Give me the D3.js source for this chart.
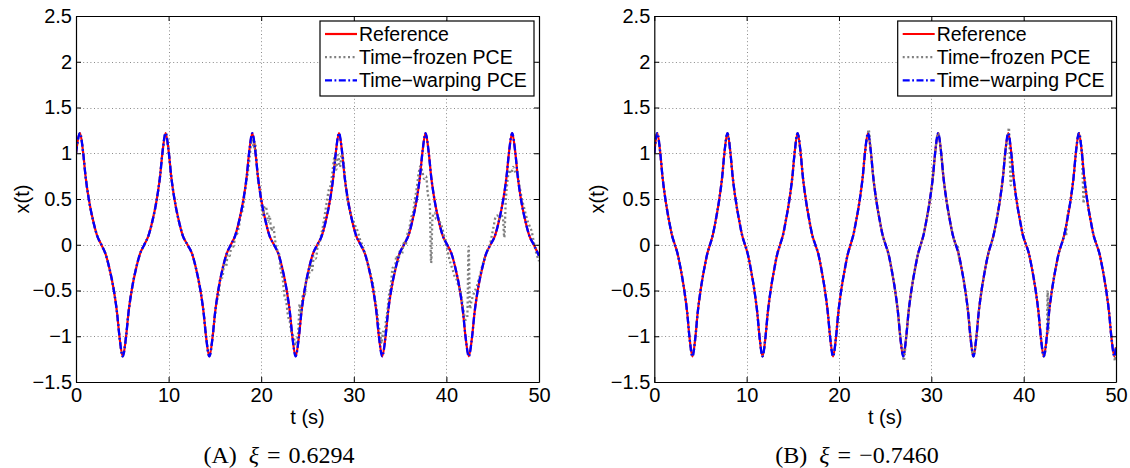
<!DOCTYPE html>
<html><head><meta charset="utf-8">
<script src="https://cdn.jsdelivr.net/npm/d3@7"></script>
<style>body{margin:0;background:#fff}</style>
</head><body>
<svg id="c" width="1130" height="468"></svg>
<script>
// ---------------- data ----------------
const xTicks = [0,10,20,30,40,50];
const xTickLabels = ["0","10","20","30","40","50"];
const yTicks = [-1.5,-1,-0.5,0,0.5,1,1.5,2,2.5];
const yTickLabels = ["\u22121.5","\u22121","\u22120.5","0","0.5","1","1.5","2","2.5"];
const seriesNames = ["Reference","Time\u2212frozen PCE","Time\u2212warping PCE"];
const xLabel = "t (s)";
const yLabel = "x(t)";
const captionTags = ["(A)","(B)"];
const captionValues = ["0.6294","\u22120.7460"];

// Panel A : reference trajectory [t, x(t)]
const referenceA = [
[0,1.0],[0.43,1.22],
[0.78,1.0],[1.03,0.75],[1.38,0.5],[1.88,0.25],[2.28,0.1],[2.74,0],[3.19,-0.1],[3.59,-0.25],[4.09,-0.5],[4.44,-0.75],[4.69,-1.0],[5.05,-1.22],
[5.41,-1.0],[5.66,-0.75],[6.01,-0.5],[6.51,-0.25],[6.91,-0.1],[7.37,0],[7.83,0.1],[8.23,0.25],[8.73,0.5],[9.08,0.75],[9.33,1.0],[9.68,1.22],
[10.03,1.0],[10.28,0.75],[10.63,0.5],[11.13,0.25],[11.53,0.1],[12.04,0],[12.54,-0.1],[12.94,-0.25],[13.44,-0.5],[13.79,-0.75],[14.04,-1.0],[14.4,-1.22],
[14.76,-1.0],[15.01,-0.75],[15.36,-0.5],[15.86,-0.25],[16.26,-0.1],[16.72,0],[17.19,0.1],[17.59,0.25],[18.09,0.5],[18.44,0.75],[18.69,1.0],[19.04,1.22],
[19.39,1.0],[19.64,0.75],[19.99,0.5],[20.49,0.25],[20.89,0.1],[21.38,0],[21.86,-0.1],[22.26,-0.25],[22.76,-0.5],[23.11,-0.75],[23.36,-1.0],[23.72,-1.22],
[24.08,-1.0],[24.33,-0.75],[24.68,-0.5],[25.18,-0.25],[25.58,-0.1],[26.06,0],[26.55,0.1],[26.95,0.25],[27.45,0.5],[27.8,0.75],[28.05,1.0],[28.4,1.22],
[28.75,1.0],[29.0,0.75],[29.35,0.5],[29.85,0.25],[30.25,0.1],[30.74,0],[31.21,-0.1],[31.61,-0.25],[32.11,-0.5],[32.46,-0.75],[32.71,-1.0],[33.07,-1.22],
[33.43,-1.0],[33.68,-0.75],[34.03,-0.5],[34.53,-0.25],[34.93,-0.1],[35.41,0],[35.9,0.1],[36.3,0.25],[36.8,0.5],[37.15,0.75],[37.4,1.0],[37.75,1.22],
[38.1,1.0],[38.35,0.75],[38.7,0.5],[39.2,0.25],[39.6,0.1],[40.09,0],[40.56,-0.1],[40.96,-0.25],[41.46,-0.5],[41.81,-0.75],[42.06,-1.0],[42.42,-1.22],
[42.78,-1.0],[43.03,-0.75],[43.38,-0.5],[43.88,-0.25],[44.28,-0.1],[44.76,0],[45.25,0.1],[45.65,0.25],[46.15,0.5],[46.5,0.75],[46.75,1.0],[47.1,1.22],
[47.45,1.0],[47.7,0.75],[48.05,0.5],[48.55,0.25],[48.95,0.1],[49.44,0],[49.91,-0.1],[50,-0.12]
];
// Panel A : time-warping PCE lies on the reference curve
const warpingA = referenceA;
// Panel A : time-frozen PCE, identical to the reference up to t = 14.7, then drifting
const frozenAStart = 14.7;
const frozenADrift = [
[14.76,-1.0],[15.0,-0.78],[15.2,-0.62],[15.4,-0.55],[15.6,-0.36],[15.8,-0.36],[16.0,-0.22],[16.2,-0.24],[16.4,-0.1],[16.6,-0.12],
[16.8,0.0],[17.0,-0.02],[17.2,0.1],[17.4,0.12],[17.6,0.2],[17.8,0.34],[18.0,0.38],[18.2,0.55],[18.45,0.72],[18.7,0.9],
[18.9,1.1],[19.05,1.15],[19.2,1.05],[19.35,1.12],[19.5,0.9],[19.7,0.68],[19.85,0.62],[20.0,0.45],[20.2,0.32],[20.4,0.42],
[20.6,0.38],[20.75,0.25],[20.9,0.32],[21.1,0.15],[21.3,0.2],[21.5,0.05],[21.7,-0.05],[21.9,-0.08],[22.1,-0.28],[22.3,-0.35],
[22.5,-0.55],[22.7,-0.62],[22.9,-0.78],[23.1,-0.85],[23.3,-0.98],[23.5,-1.0],[23.7,-1.1],[23.85,-1.05],[24.0,-0.95],[24.15,-0.65],
[24.3,-0.75],[24.5,-0.55],[24.7,-0.55],[24.9,-0.35],[25.1,-0.38],[25.3,-0.22],[25.5,-0.28],[25.7,-0.12],[25.9,-0.15],[26.1,-0.02],
[26.3,0.02],[26.5,0.12],[26.7,0.22],[26.9,0.35],[27.1,0.48],[27.3,0.6],[27.5,0.65],[27.7,0.8],[27.9,0.95],[28.1,0.82],
[28.3,0.98],[28.5,0.85],[28.7,1.0],[28.9,0.9],[29.1,0.68],[29.3,0.5],[29.5,0.4],[29.7,0.3],[29.9,0.27],[30.1,0.22],
[30.3,0.18],[30.5,0.12],[30.7,0.05],[30.9,0.0],[31.1,-0.06],[31.3,-0.12],[31.5,-0.2],[31.7,-0.28],[31.9,-0.35],[32.1,-0.45],
[32.3,-0.6],[32.5,-0.72],[32.7,-0.9],[32.85,-0.95],[33.0,-1.08],[33.15,-0.95],[33.3,-1.0],[33.45,-0.85],[33.6,-0.75],[33.8,-0.55],
[34.0,-0.45],[34.2,-0.25],[34.4,-0.3],[34.6,-0.12],[34.8,-0.18],[35.0,-0.05],[35.2,-0.1],[35.4,0.02],[35.6,0.0],[35.8,0.12],
[36.0,0.18],[36.2,0.3],[36.4,0.35],[36.6,0.5],[36.8,0.62],[37.0,0.78],[37.2,0.86],[37.4,0.8],[37.6,0.72],[37.8,0.75],
[38.0,0.55],[38.2,0.45],[38.35,-0.2],[38.5,0.3],[38.7,0.35],[38.9,0.28],[39.1,0.3],[39.3,0.25],[39.5,0.2],[39.7,0.12],
[39.9,0.02],[40.1,-0.05],[40.3,-0.15],[40.5,-0.22],[40.7,-0.28],[40.9,-0.35],[41.1,-0.38],[41.3,-0.45],[41.5,-0.5],[41.7,-0.62],
[41.9,-0.75],[42.05,-0.82],[42.25,-0.8],[42.4,-0.02],[42.55,-0.7],[42.7,-0.62],[42.9,-0.55],[43.1,-0.5],[43.3,-0.45],[43.5,-0.38],
[43.7,-0.3],[43.9,-0.22],[44.1,-0.15],[44.3,-0.1],[44.5,-0.05],[44.7,0.0],[44.9,0.1],[45.1,0.2],[45.3,0.3],[45.5,0.32],
[45.7,0.28],[45.9,0.32],[46.1,0.3],[46.25,0.08],[46.4,0.45],[46.6,0.7],[46.8,0.82],[47.0,0.78],[47.2,0.85],[47.4,0.8],
[47.6,0.82],[47.8,0.7],[48.0,0.58],[48.2,0.48],[48.4,0.4],[48.6,0.32],[48.8,0.25],[49.0,0.2],[49.2,0.15],[49.4,0.05],
[49.6,-0.05],[49.8,-0.12],[50.0,-0.18]
];

// Panel B : reference trajectory [t, x(t)]
const referenceB = [
[0,1.0],[0.32,1.22],
[0.65,1.0],[0.88,0.75],[1.2,0.5],[1.62,0.25],[1.92,0.1],[2.23,0],[2.53,-0.1],[2.83,-0.25],[3.25,-0.5],[3.57,-0.75],[3.8,-1.0],[4.13,-1.22],
[4.46,-1.0],[4.69,-0.75],[5.01,-0.5],[5.43,-0.25],[5.73,-0.1],[6.03,0],[6.32,0.1],[6.62,0.25],[7.04,0.5],[7.36,0.75],[7.59,1.0],[7.92,1.22],
[8.25,1.0],[8.48,0.75],[8.8,0.5],[9.22,0.25],[9.52,0.1],[9.82,0],[10.12,-0.1],[10.42,-0.25],[10.84,-0.5],[11.16,-0.75],[11.39,-1.0],[11.72,-1.22],
[12.05,-1.0],[12.28,-0.75],[12.6,-0.5],[13.02,-0.25],[13.32,-0.1],[13.62,0],[13.92,0.1],[14.22,0.25],[14.64,0.5],[14.96,0.75],[15.19,1.0],[15.52,1.22],
[15.85,1.0],[16.08,0.75],[16.4,0.5],[16.82,0.25],[17.12,0.1],[17.44,0],[17.76,-0.1],[18.06,-0.25],[18.48,-0.5],[18.8,-0.75],[19.03,-1.0],[19.36,-1.22],
[19.69,-1.0],[19.92,-0.75],[20.24,-0.5],[20.66,-0.25],[20.96,-0.1],[21.25,0],[21.54,0.1],[21.84,0.25],[22.26,0.5],[22.58,0.75],[22.81,1.0],[23.14,1.22],
[23.47,1.0],[23.7,0.75],[24.02,0.5],[24.44,0.25],[24.74,0.1],[25.05,0],[25.36,-0.1],[25.66,-0.25],[26.08,-0.5],[26.4,-0.75],[26.63,-1.0],[26.96,-1.22],
[27.29,-1.0],[27.52,-0.75],[27.84,-0.5],[28.26,-0.25],[28.56,-0.1],[28.85,0],[29.14,0.1],[29.44,0.25],[29.86,0.5],[30.18,0.75],[30.41,1.0],[30.74,1.22],
[31.07,1.0],[31.3,0.75],[31.62,0.5],[32.04,0.25],[32.34,0.1],[32.65,0],[32.96,-0.1],[33.26,-0.25],[33.68,-0.5],[34.0,-0.75],[34.23,-1.0],[34.56,-1.22],
[34.89,-1.0],[35.12,-0.75],[35.44,-0.5],[35.86,-0.25],[36.16,-0.1],[36.45,0],[36.73,0.1],[37.03,0.25],[37.45,0.5],[37.77,0.75],[38.0,1.0],[38.33,1.22],
[38.66,1.0],[38.89,0.75],[39.21,0.5],[39.63,0.25],[39.93,0.1],[40.26,0],[40.58,-0.1],[40.88,-0.25],[41.3,-0.5],[41.62,-0.75],[41.85,-1.0],[42.18,-1.22],
[42.51,-1.0],[42.74,-0.75],[43.06,-0.5],[43.48,-0.25],[43.78,-0.1],[44.08,0],[44.38,0.1],[44.68,0.25],[45.1,0.5],[45.42,0.75],[45.65,1.0],[45.98,1.22],
[46.31,1.0],[46.54,0.75],[46.86,0.5],[47.28,0.25],[47.58,0.1],[47.9,0],[48.22,-0.1],[48.52,-0.25],[48.94,-0.5],[49.26,-0.75],[49.49,-1.0],[49.82,-1.22],
[50,-1.12]
];
const warpingB = referenceB;
// Panel B : time-frozen PCE = reference plus these local departures
const frozenBDeparts = [
[23.2,1.26],[27.0,-1.27],[32.9,-0.03],[33.0,-0.14],[38.4,1.28],[38.6,0.65],
[42.6,-0.5],[42.68,-0.95],[44.5,0.18],[44.6,0.1],[46.4,0.72],[46.5,0.45],[49.88,-1.27]
];

const frozenA = referenceA.filter(d => d[0] < frozenAStart).concat(frozenADrift);
const frozenB = referenceB.concat(frozenBDeparts).sort((a,b) => a[0]-b[0]);

// ---------------- drawing ----------------
const svg = d3.select('#c');
const FONT = "'Liberation Sans', Arial, Helvetica, sans-serif";
const panels = [
  {id:'A', left:76, right:539, top:16, bottom:382, ref:referenceA, frozen:frozenA, warp:warpingA,
   legX:320, ylabX:29, capX:279, tag:captionTags[0], val:captionValues[0]},
  {id:'B', left:654.3, right:1116, top:16, bottom:382, ref:referenceB, frozen:frozenB, warp:warpingB,
   legX:897.7, ylabX:604, capX:857, tag:captionTags[1], val:captionValues[1]}
];
const styles = [
  {color:'#ff0000', dash:null, width:2.2},
  {color:'#808080', dash:'2,2.6', width:2.3},
  {color:'#0000ff', dash:'7,2.5,1.8,2.5', width:2.3}
];

panels.forEach(p => {
  const x = d3.scaleLinear().domain([xTicks[0], xTicks[xTicks.length-1]]).range([p.left, p.right]);
  const y = d3.scaleLinear().domain([yTicks[0], yTicks[yTicks.length-1]]).range([p.bottom, p.top]);
  const g = svg.append('g');

  // grid
  const grid = g.append('g').attr('stroke','#8a8a8a').attr('stroke-width',1).attr('stroke-dasharray','1,2.6');
  grid.selectAll('.gx').data(xTicks.slice(1,-1)).join('line')
    .attr('x1', d => Math.round(x(d))+0.5).attr('x2', d => Math.round(x(d))+0.5)
    .attr('y1', p.top).attr('y2', p.bottom);
  grid.selectAll('.gy').data(yTicks.slice(1,-1)).join('line')
    .attr('y1', d => Math.round(y(d))+0.5).attr('y2', d => Math.round(y(d))+0.5)
    .attr('x1', p.left).attr('x2', p.right);

  // clip
  svg.append('clipPath').attr('id','clip'+p.id).append('rect')
    .attr('x',p.left).attr('y',p.top).attr('width',p.right-p.left).attr('height',p.bottom-p.top);

  const line = d3.line().x(d => x(d[0])).y(d => y(d[1])).curve(d3.curveMonotoneX);
  const lines = g.append('g').attr('clip-path','url(#clip'+p.id+')').attr('fill','none');
  [p.ref, p.frozen, p.warp].forEach((data, i) => {
    const s = styles[i];
    const path = lines.append('path').datum(data).attr('d', line)
      .attr('stroke', s.color).attr('stroke-width', s.width)
      .attr('stroke-linejoin','round');
    if (s.dash) path.attr('stroke-dasharray', s.dash);
  });

  // axes (ticks inward on all sides)
  const ax = (gen, tr) => {
    const a = g.append('g').attr('transform', tr).call(gen);
    a.selectAll('.domain').attr('stroke','#000').attr('stroke-width',1.2);
    a.selectAll('.tick line').attr('stroke','#000').attr('stroke-width',1);
    a.selectAll('text').attr('font-family',FONT).attr('font-size',20).attr('fill','#000');
    return a;
  };
  ax(d3.axisBottom(x).tickValues(xTicks).tickFormat((d,i)=>xTickLabels[i]).tickSizeInner(-5).tickSizeOuter(0).tickPadding(6),
     `translate(0,${p.bottom})`);
  ax(d3.axisTop(x).tickValues(xTicks).tickFormat('').tickSizeInner(-5).tickSizeOuter(0),
     `translate(0,${p.top})`);
  ax(d3.axisLeft(y).tickValues(yTicks).tickFormat((d,i)=>yTickLabels[i]).tickSizeInner(-5).tickSizeOuter(0).tickPadding(4),
     `translate(${p.left},0)`);
  ax(d3.axisRight(y).tickValues(yTicks).tickFormat('').tickSizeInner(-5).tickSizeOuter(0),
     `translate(${p.right},0)`);

  // axis labels
  g.append('text').attr('x',(p.left+p.right)/2).attr('y',424).attr('text-anchor','middle')
    .attr('font-family',FONT).attr('font-size',20).text(xLabel);
  g.append('text').attr('transform',`translate(${p.ylabX},${(p.top+p.bottom)/2}) rotate(-90)`)
    .attr('text-anchor','middle').attr('font-family',FONT).attr('font-size',20).text(yLabel);

  // legend
  const lg = g.append('g');
  lg.append('rect').attr('x',p.legX).attr('y',21).attr('width',214).attr('height',75)
    .attr('fill','#fff').attr('stroke','#000').attr('stroke-width',1.2);
  seriesNames.forEach((name,i) => {
    const yy = 34 + i*23.2;
    const s = styles[i];
    const l = lg.append('line').attr('x1',p.legX+5).attr('x2',p.legX+37).attr('y1',yy).attr('y2',yy)
      .attr('stroke',s.color).attr('stroke-width',s.width);
    if (s.dash) l.attr('stroke-dasharray', s.dash);
    lg.append('text').attr('x',p.legX+39).attr('y',yy).attr('dy','0.36em')
      .attr('font-family',FONT).attr('font-size',19.5).text(name);
  });

  // caption
  const cap = svg.append('text').attr('x',p.capX).attr('y',463).attr('text-anchor','middle')
    .attr('font-family',"'Liberation Serif', 'Times New Roman', serif").attr('font-size',24);
  cap.append('tspan').text(p.tag + '\u2002');
  cap.append('tspan').attr('font-style','italic').text('\u03be');
  cap.append('tspan').text('\u2004=\u2004' + p.val);
});
</script>
</body></html>
